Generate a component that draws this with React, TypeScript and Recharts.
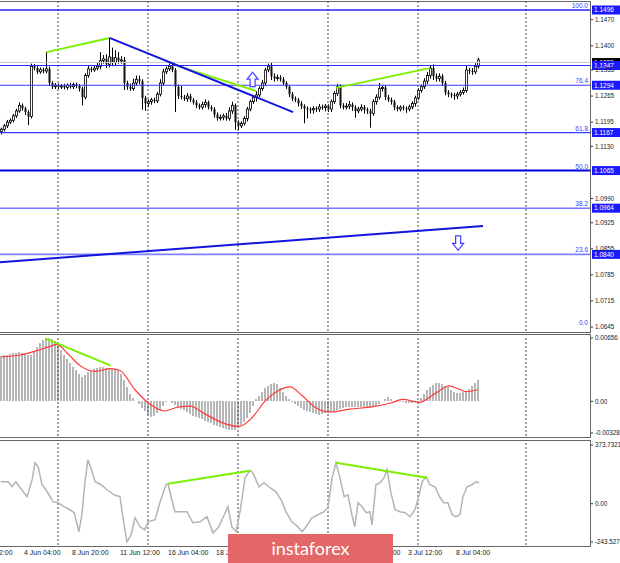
import React from 'react';
import { ComposedChart, Bar, Line, XAxis, YAxis, ReferenceLine, ReferenceDot } from 'recharts';

// ---------- DATA ----------
const firstOpen = 1.117;
const closes = [
  1.1176, 1.1185, 1.1195, 1.12, 1.1212, 1.1225, 1.124, 1.1232, 1.1222, 1.121,
  1.1345, 1.134, 1.133, 1.1336, 1.1332, 1.1338, 1.13, 1.129, 1.1294, 1.129,
  1.1292, 1.1288, 1.1294, 1.129, 1.1296, 1.1292, 1.1285, 1.1262, 1.132, 1.1338,
  1.1335, 1.134, 1.1345, 1.136, 1.1365, 1.135, 1.137, 1.1355, 1.1368, 1.136,
  1.1362, 1.13, 1.129, 1.1285, 1.13, 1.131, 1.1305, 1.126, 1.1245, 1.125,
  1.1255, 1.1252, 1.127, 1.13, 1.133, 1.1338, 1.1345, 1.1335, 1.129, 1.1265,
  1.1262, 1.1258, 1.1265, 1.1255, 1.1248, 1.124, 1.1235, 1.1242, 1.1248, 1.1235,
  1.123, 1.1215, 1.1205, 1.1208, 1.1212, 1.1205, 1.1225, 1.124, 1.1195, 1.1185,
  1.1192, 1.1205, 1.123, 1.125, 1.1262, 1.1268, 1.1285, 1.13, 1.1335, 1.1345,
  1.1318, 1.1312, 1.1315, 1.131, 1.13, 1.129, 1.127, 1.1258, 1.1255, 1.1245,
  1.1238, 1.1232, 1.123, 1.1228, 1.1232, 1.123, 1.1236, 1.1234, 1.1238, 1.123,
  1.125, 1.1272, 1.129, 1.124, 1.1235, 1.1238, 1.1242, 1.1235, 1.1225, 1.123,
  1.1235, 1.1228, 1.1225, 1.1218, 1.125, 1.1262, 1.1285, 1.1288, 1.1262, 1.1255,
  1.125, 1.1235, 1.123, 1.1235, 1.1232, 1.123, 1.1236, 1.1245, 1.126, 1.128,
  1.129, 1.1305, 1.132, 1.134, 1.1318, 1.1312, 1.1318, 1.13, 1.1275, 1.127,
  1.1268, 1.1265, 1.127, 1.1275, 1.128, 1.1335, 1.1332, 1.133, 1.1345, 1.1362,
];
// wick lengths in pips beyond the body
const upWick = [
  4, 5, 6, 5, 5, 6, 8, 5, 4, 5,
  7, 6, 5, 6, 5, 45, 6, 5, 6, 5,
  5, 6, 5, 6, 5, 5, 5, 5, 6, 8,
  6, 8, 10, 23, 10, 12, 51, 25, 20, 15,
  10, 8, 6, 8, 12, 10, 10, 5, 6, 6,
  5, 6, 6, 10, 8, 6, 8, 6, 5, 6,
  27, 6, 8, 6, 5, 6, 5, 8, 8, 5,
  5, 5, 6, 8, 6, 8, 10, 10, 5, 5,
  5, 6, 6, 5, 6, 10, 6, 8, 6, 7,
  10, 8, 8, 6, 6, 5, 5, 6, 6, 5,
  6, 5, 5, 5, 6, 5, 8, 6, 6, 5,
  6, 6, 8, 6, 6, 8, 10, 6, 5, 6,
  8, 6, 6, 6, 6, 8, 15, 6, 6, 6,
  6, 5, 5, 5, 5, 5, 6, 6, 6, 6,
  6, 8, 10, 6, 10, 8, 8, 6, 6, 6,
  5, 6, 6, 6, 8, 12, 6, 8, 8, 6,
];
const lowWick = [
  8, 6, 6, 5, 6, 6, 5, 6, 8, 23,
  5, 6, 6, 5, 6, 6, 8, 6, 6, 6,
  6, 5, 6, 5, 6, 6, 8, 22, 6, 6,
  6, 5, 6, 8, 8, 10, 8, 10, 8, 8,
  8, 19, 8, 6, 6, 6, 8, 32, 20, 10,
  8, 6, 6, 6, 8, 6, 6, 6, 68, 8,
  6, 6, 8, 6, 6, 8, 6, 6, 8, 6,
  6, 8, 6, 6, 8, 6, 6, 8, 21, 11,
  6, 6, 8, 6, 6, 12, 6, 6, 8, 6,
  10, 8, 6, 6, 6, 6, 8, 6, 6, 8,
  8, 40, 25, 10, 10, 8, 8, 6, 10, 8,
  8, 6, 6, 8, 6, 6, 8, 10, 18, 6,
  6, 10, 8, 38, 6, 8, 6, 8, 8, 6,
  8, 8, 6, 6, 6, 10, 6, 6, 8, 6,
  6, 6, 8, 8, 10, 8, 8, 8, 8, 8,
  8, 10, 8, 6, 6, 6, 8, 8, 6, 6,
];

// MACD histogram, in units of 0.0001
const macdHistPips = [
  47, 48, 48, 49, 50, 50, 51, 50, 49, 48,
  48, 52, 56, 60, 64, 66, 66, 65, 63, 58,
  53, 48, 44, 40, 36, 32, 28, 25, 27, 30,
  31, 33, 35, 36, 36, 35, 34, 33, 33, 32,
  28, 22, 15, 8, 3, 0, -3, -7, -10, -14,
  -16, -15, -12, -9, -5, -1, 0, -2, -4, -6,
  -8, -9, -11, -13, -15, -16, -17, -18, -20, -21,
  -22, -24, -26, -27, -28, -29, -30, -30, -30, -27,
  -24, -21, -17, -12, -5, 2, 6, 10, 14, 16,
  18, 19, 18, 14, 10, 6, 2, -1, -3, -5,
  -7, -9, -10, -11, -12, -13, -14, -13, -12, -12,
  -11, -10, -9, -8, -7, -6, -6, -6, -6, -6,
  -6, -6, -6, -6, -6, -5, -3, 0, 2, 4,
  2, 0, -1, -1, -1, -2, -2, -2, -1, -1,
  3, 8, 12, 15, 17, 19, 19, 18, 16, 15,
  12, 10, 9, 9, 10, 11, 13, 16, 19, 22,
];
// MACD signal line (bar position, value in 0.0001)
const sigPos = [0.5, 6.7, 11.7, 16.7, 19, 22.7, 26.7, 31.7, 36.7, 40, 45, 50, 54.7, 59.3, 63.3, 68.3, 74, 79.7, 84, 88.3, 92.7, 96.7, 100.7, 105, 110, 116.7, 123.3, 130, 134.3, 139.7, 145, 149.7, 152.7, 155.3, 159.3];
const sigPips = [46, 48, 52, 57, 59, 49, 37, 31, 34, 32, 12, -3, -10, -6, -5, -13, -22, -26, -17, 0, 11, 15, 6, -6, -11, -8, -6, -2, 2, -1, 8, 16, 13, 10, 12];

// Oscillator (bottom panel)
const cciPos = [0.3, 2.7, 4, 5.3, 6.7, 9, 10.7, 11.7, 12.7, 14, 15.3, 17.7, 19.3, 21.3, 23.3, 24.7, 26.3, 27.3, 28.3, 29.3, 30.7, 31.7, 33.7, 35.7, 38, 40, 41, 42.3, 43.7, 45, 46.7, 48.3, 49.3, 51.7, 53.3, 55.3, 56, 56.7, 58.3, 60.7, 62.3, 64.3, 66.7, 69, 71, 72.7, 74, 76, 77.3, 78.7, 80, 81.7, 83.3, 84, 85, 86.3, 88, 90, 92, 93.7, 95.3, 97.3, 99.3, 100.7, 102, 104, 106, 108, 109.3, 110.7, 112, 113.3, 114.7, 116, 117.3, 118.3, 119.3, 120.7, 122, 123.3, 124, 125.3, 126.7, 128, 129, 130.3, 131.7, 133.3, 135, 136.7, 138.3, 139.3, 140.7, 142, 143.3, 145, 146.7, 148, 149.3, 150.7, 152, 153.3, 154.3, 155.7, 157.3, 158.7, 159.7];
const cciVal = [140, 140, 108, 140, 102, 45, 153, 261, 236, 121, 89, 13, 6, -19, -38, -57, -178, -70, 134, 280, 204, 140, 121, 89, 57, 45, -89, -242, -197, -89, -147, -166, -115, -102, 6, 121, 127, 70, -51, -51, -51, -121, -115, -83, -185, -153, -102, -19, -147, -178, -51, 166, 210, 204, 166, 108, 134, 102, 76, 25, -51, -115, -147, -178, -147, -89, -70, -51, -25, 166, 261, 166, 45, 57, -70, -147, 6, -19, -57, -51, -134, 121, 134, 166, 217, 70, -38, -51, -57, -83, -38, 25, 140, 172, 121, 108, 38, 6, 6, -70, -83, -70, 45, 108, 121, 140, 134];

// Axis ticks and labels
const priceTicks = [1.147, 1.14, 1.1335, 1.1265, 1.1195, 1.113, 1.099, 1.0925, 1.0855, 1.0785, 1.0715, 1.0645];
const macdTicks = [0.00656, 0, -0.00328];
const macdTickLabels = ['0.00656', '0.00', '-0.00328'];
const cciTicks = [373.7321, 0, -243.5276];
const cciTickLabels = ['373.7321', '0.00', '-243.5276'];
const dateTicks = [-8, 8, 24, 40, 56, 72, 88, 104, 120, 136, 152];
const dateLabels = ['2 Jun 12:00', '4 Jun 04:00', '8 Jun 20:00', '11 Jun 12:00', '16 Jun 04:00', '18 Jun 20:00', '23 Jun 12:00', '26 Jun 04:00', '30 Jun 20:00', '3 Jul 12:00', '8 Jul 04:00'];
const gridPos = [19.33, 49.33, 79.33, 109.33, 139.33, 175.33];

// Fibonacci levels and horizontal line
const fibLevels = [1.1496, 1.1294, 1.1167, 1.1065, 1.0964, 1.084, 1.0645];
const fibNames = ['100.0', '76.4', '61.8', '50.0', '38.2', '23.6', '0.0'];
const resistance = 1.1347;
const bidPrice = 1.1355;

// Trend lines [[x1, y1], [x2, y2]]
const greenPriceLines = [
  [[15.5, 1.1383], [36.5, 1.1421]],
  [[59, 1.1346], [85.3, 1.1279]],
  [[112, 1.1287], [143.3, 1.134]],
];
const bluePriceLines = [
  [[36.5, 1.1421], [97.7, 1.1222]],
  [[0, 1.0819], [161, 1.0916]],
];
const upArrow = [84.2, 1.1309];
const downArrow = [152.7, 1.0871];
const greenMacdLines = [[[15.2, 0.0065], [36.9, 0.0037]]];
const greenCciLines = [
  [[56, 127], [83.3, 210]],
  [[112, 261], [142.3, 166]],
];

// ---------- TABLES ----------
const candles = closes.map((c, i) => {
  const o = i === 0 ? firstOpen : closes[i - 1];
  return { v: i + 0.5, o, c, h: Math.max(o, c) + upWick[i] / 10000, l: Math.min(o, c) - lowWick[i] / 10000 };
});
const macdData = macdHistPips.map((m, i) => ({ v: i + 0.5, m: m / 10000 }));
const sigData = sigPos.map((p, i) => ({ v: p, s: sigPips[i] / 10000 }));
const cciData = cciPos.map((p, i) => ({ v: p, cci: cciVal[i] }));

// ---------- STYLE / LAYOUT ----------
const FONT = '"Liberation Sans", Arial, sans-serif';
const CW = 668;
const CLEFT = -48;
const PLOT_R = 638; // plot right edge in chart coordinates
const XDOM: [number, number] = [-16, 196.667];
const fibStyle = [
  { stroke: '#2424ff', w: 1.5 },
  { stroke: '#3a3aff', w: 1.2 },
  { stroke: '#3a3aff', w: 1.2 },
  { stroke: '#0000e6', w: 2 },
  { stroke: '#7474ff', w: 1.6 },
  { stroke: '#8080ff', w: 1.6 },
  { stroke: 'none', w: 0 },
];
const GREEN = '#7cf000';
const BLUE = '#1414e0';

const Candle = (props: any) => {
  const { x, y, width, height, payload } = props;
  if (!payload || x == null) return null;
  const top = Math.min(y, y + height);
  const bot = Math.max(y, y + height);
  const { o, h, l, c } = payload;
  const k = h - l > 0 ? (bot - top) / (h - l) : 0;
  const py = (p: number) => top + (h - p) * k;
  const cx = Math.floor(x + width / 2) + 0.5;
  const yo = py(o);
  const yc = py(c);
  const bTop = Math.min(yo, yc);
  const bH = Math.max(1, Math.abs(yo - yc));
  const bull = c >= o;
  return (
    <g>
      <line x1={cx} x2={cx} y1={top} y2={bot} stroke="#000" strokeWidth={1} />
      <rect x={cx - 1} y={bTop} width={2} height={bH} fill={bull ? '#fff' : '#111'} stroke="#000" strokeWidth={bull ? 0.8 : 0} />
    </g>
  );
};

const HistBar = (props: any) => {
  const { x, y, width, height } = props;
  if (x == null || !height) return null;
  const top = Math.min(y, y + height);
  const h = Math.abs(height);
  const left = Math.floor(x + width / 2) - 1;
  return <rect x={left} y={top} width={2} height={h} fill="#b6b6b6" shapeRendering="crispEdges" />;
};

const RightTick = (props: any) => {
  const { y, payload, labels, ticks } = props;
  let txt = payload.value.toFixed(4);
  if (labels) {
    const idx = ticks.indexOf(payload.value);
    txt = idx >= 0 ? labels[idx] : String(payload.value);
  }
  return (
    <g>
      <line x1={PLOT_R} x2={PLOT_R + 3} y1={y} y2={y} stroke="#333" />
      <text x={PLOT_R + 5} y={y} dy="0.35em" fontSize={6.3} fill="#222" fontFamily={FONT}>{txt}</text>
    </g>
  );
};

const DateTick = (props: any) => {
  const { x, payload } = props;
  const idx = dateTicks.indexOf(payload.value);
  return (
    <text x={x} y={116} fontSize={7} fill="#222" fontFamily={FONT}>{idx >= 0 ? dateLabels[idx] : ''}</text>
  );
};

const FibTag = (props: any) => {
  const { viewBox, name, value, box, boxColor } = props;
  if (!viewBox) return null;
  const right = viewBox.x + viewBox.width;
  const y = viewBox.y;
  return (
    <g>
      {name ? (
        <text x={right - 2} y={y - 2} textAnchor="end" fontSize={6.5} fill="#3c3cff" fontFamily={FONT}>{name}</text>
      ) : null}
      {box ? <rect x={right + 2} y={y - 4.5} width={28} height={9} fill={boxColor} /> : null}
      {box ? (
        <text x={right + 4} y={y} dy="0.35em" fontSize={6.5} fill="#fff" fontFamily={FONT}>{value}</text>
      ) : null}
    </g>
  );
};

const ArrowShape = (dir: 'up' | 'down') => (p: any) => {
  const { cx, cy } = p;
  if (cx == null) return null;
  const s = dir === 'up' ? 1 : -1;
  const d = `M ${cx - 5.5} ${cy - s * 0.5} L ${cx} ${cy - s * 7.5} L ${cx + 5.5} ${cy - s * 0.5} L ${cx + 2.5} ${cy - s * 0.5} L ${cx + 2.5} ${cy + s * 7} L ${cx - 2.5} ${cy + s * 7} L ${cx - 2.5} ${cy - s * 0.5} Z`;
  return <path d={d} fill="#fff" stroke="#4040ff" strokeWidth={1.2} />;
};

const grid = (id: string) =>
  gridPos.map((g) => (
    <ReferenceLine key={id + g} x={g} stroke="#444" strokeDasharray="2 2" strokeWidth={1} />
  ));

const seg = (s: number[][]) => [{ x: s[0][0], y: s[0][1] }, { x: s[1][0], y: s[1][1] }];

const frame = (top: number, height: number): React.CSSProperties => ({
  position: 'absolute',
  left: -2,
  top,
  width: 593,
  height,
  boxSizing: 'border-box',
  border: '1px solid #666',
  pointerEvents: 'none',
});

export default function App() {
  return (
    <div style={{ position: 'absolute', left: 0, top: 0, width: 620, height: 563, overflow: 'hidden', background: '#fff' }}>
      {/* Main price panel */}
      <div style={{ position: 'absolute', left: CLEFT, top: 0 }}>
        <ComposedChart width={CW} height={333} data={candles} margin={{ top: 2, right: 0, bottom: 2, left: 0 }}>
          <XAxis type="number" dataKey="v" domain={XDOM} allowDataOverflow hide />
          <YAxis
            orientation="right"
            width={30}
            type="number"
            domain={[1.06343, 1.15175]}
            allowDataOverflow
            ticks={priceTicks}
            interval={0}
            axisLine={false}
            tickLine={false}
            tick={(p: any) => <RightTick {...p} />}
          />
          {grid('m')}
          <ReferenceLine y={bidPrice} stroke="#c8c8c8" strokeWidth={1} label={<FibTag value={bidPrice.toFixed(4)} box boxColor="#000" />} />
          {fibLevels.map((lv, i) => (
            <ReferenceLine
              key={'fib' + lv}
              y={lv}
              stroke={fibStyle[i].stroke}
              strokeWidth={fibStyle[i].w}
              label={<FibTag name={fibNames[i]} value={lv.toFixed(4)} box={i < fibLevels.length - 1} boxColor="#1a1aff" />}
            />
          ))}
          <ReferenceLine y={resistance} stroke="#2a2aff" strokeWidth={1.2} label={<FibTag value={resistance.toFixed(4)} box boxColor="#1a1aff" />} />
          <Bar dataKey={(d: any) => [d.l, d.h]} barSize={3} shape={(p: any) => <Candle {...p} />} isAnimationActive={false} />
          {greenPriceLines.map((s, i) => (
            <ReferenceLine key={'gp' + i} segment={seg(s)} stroke={GREEN} strokeWidth={2} />
          ))}
          {bluePriceLines.map((s, i) => (
            <ReferenceLine key={'bp' + i} segment={seg(s)} stroke={BLUE} strokeWidth={2} />
          ))}
          <ReferenceDot x={upArrow[0]} y={upArrow[1]} shape={ArrowShape('up')} />
          <ReferenceDot x={downArrow[0]} y={downArrow[1]} shape={ArrowShape('down')} />
        </ComposedChart>
      </div>

      {/* MACD panel */}
      <div style={{ position: 'absolute', left: CLEFT, top: 334 }}>
        <ComposedChart width={CW} height={104} data={macdData} margin={{ top: 2, right: 0, bottom: 2, left: 0 }}>
          <XAxis type="number" dataKey="v" domain={XDOM} allowDataOverflow hide />
          <YAxis
            orientation="right"
            width={30}
            type="number"
            domain={[-0.00359, 0.00677]}
            allowDataOverflow
            ticks={macdTicks}
            interval={0}
            axisLine={false}
            tickLine={false}
            tick={(p: any) => <RightTick {...p} labels={macdTickLabels} ticks={macdTicks} />}
          />
          {grid('d')}
          <Bar dataKey="m" barSize={2} fill="#b6b6b6" shape={(p: any) => <HistBar {...p} />} isAnimationActive={false} />
          <Line data={sigData} dataKey="s" type="monotone" stroke="#ff3a3a" strokeWidth={1.2} dot={false} isAnimationActive={false} />
          {greenMacdLines.map((s, i) => (
            <ReferenceLine key={'gm' + i} segment={seg(s)} stroke={GREEN} strokeWidth={2} />
          ))}
        </ComposedChart>
      </div>

      {/* Oscillator panel */}
      <div style={{ position: 'absolute', left: CLEFT, top: 439 }}>
        <ComposedChart width={CW} height={126} data={cciData} margin={{ top: 2, right: 0, bottom: 0, left: 0 }}>
          <XAxis
            type="number"
            dataKey="v"
            domain={XDOM}
            allowDataOverflow
            ticks={dateTicks}
            interval={0}
            height={20}
            axisLine={false}
            tickLine={false}
            tick={(p: any) => <DateTick {...p} />}
          />
          <YAxis
            orientation="right"
            width={30}
            type="number"
            domain={[-262.6, 399.2]}
            allowDataOverflow
            ticks={cciTicks}
            interval={0}
            axisLine={false}
            tickLine={false}
            tick={(p: any) => <RightTick {...p} labels={cciTickLabels} ticks={cciTicks} />}
          />
          {grid('c')}
          <Line dataKey="cci" type="linear" stroke="#b4b4b4" strokeWidth={1.5} dot={false} isAnimationActive={false} />
          {greenCciLines.map((s, i) => (
            <ReferenceLine key={'gc' + i} segment={seg(s)} stroke={GREEN} strokeWidth={2} />
          ))}
        </ComposedChart>
      </div>

      <div style={frame(1, 332)} />
      <div style={frame(334, 104)} />
      <div style={frame(440, 107)} />

      {/* watermark */}
      <div
        style={{
          position: 'absolute',
          left: 228,
          top: 534,
          width: 165,
          height: 32,
          background: '#e36767',
          color: '#fff',
          fontFamily: 'Lato, "Open Sans", sans-serif',
          fontSize: 18,
          lineHeight: '29px',
          textAlign: 'center',
        }}
      >
        instaforex
      </div>
    </div>
  );
}
